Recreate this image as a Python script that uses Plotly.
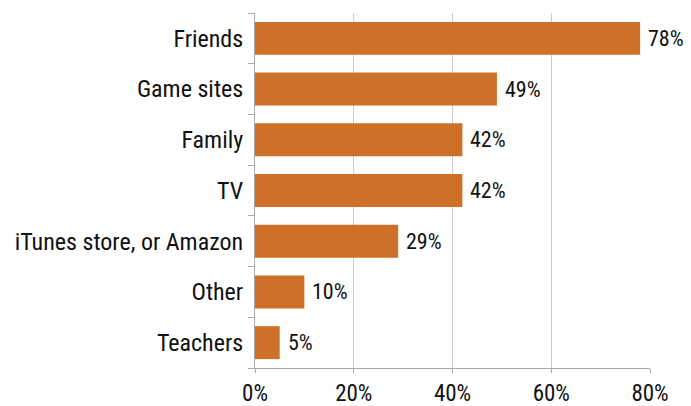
import plotly.graph_objects as go

# Where kids hear about new apps/games (share of respondents)
sources = ["Friends", "Game sites", "Family", "TV", "iTunes store, or Amazon", "Other", "Teachers"]
shares = [78, 49, 42, 42, 29, 10, 5]
tick_vals = [0, 20, 40, 60, 80]
tick_text = ["0%", "20%", "40%", "60%", "80%"]

FONT = "Liberation Sans Narrow, Roboto Condensed, Arial Narrow, sans-serif"
BAR = "#CF7029"
INK = "#111111"

fig = go.Figure(
    go.Bar(
        x=shares,
        y=sources,
        orientation="h",
        marker=dict(color=BAR, line=dict(width=0)),
        hoverinfo="skip",
    )
)

# value labels just past the end of each bar
for src, val in zip(sources, shares):
    fig.add_annotation(
        x=val, y=src, text=f"{val}%",
        xanchor="left", yanchor="middle", xshift=6,
        showarrow=False,
        font=dict(family=FONT, size=22, color=INK),
    )

fig.update_layout(
    width=691,
    height=406,
    margin=dict(l=255, r=41, t=13, b=38),
    paper_bgcolor="white",
    plot_bgcolor="white",
    bargap=0.35,
    showlegend=False,
    font=dict(family=FONT, color=INK),
)

fig.update_xaxes(
    range=[0, 80],
    tickvals=tick_vals,
    ticktext=tick_text,
    tickfont=dict(family=FONT, size=23, color=INK),
    showgrid=True,
    gridcolor="#cccccc",
    gridwidth=1,
    ticks="outside",
    ticklen=4,
    tickcolor="#aaaaaa",
    showline=True,
    linecolor="#aaaaaa",
    linewidth=1,
    zeroline=False,
    automargin=False,
)

fig.update_yaxes(
    categoryorder="array",
    categoryarray=sources[::-1],
    tickfont=dict(family=FONT, size=24, color=INK),
    tickson="boundaries",
    ticks="outside",
    ticklen=6,
    tickcolor="#aaaaaa",
    showline=True,
    linecolor="#aaaaaa",
    linewidth=1,
    showgrid=False,
    ticklabelstandoff=6,
    automargin=False,
)

fig.write_html("out.html")
